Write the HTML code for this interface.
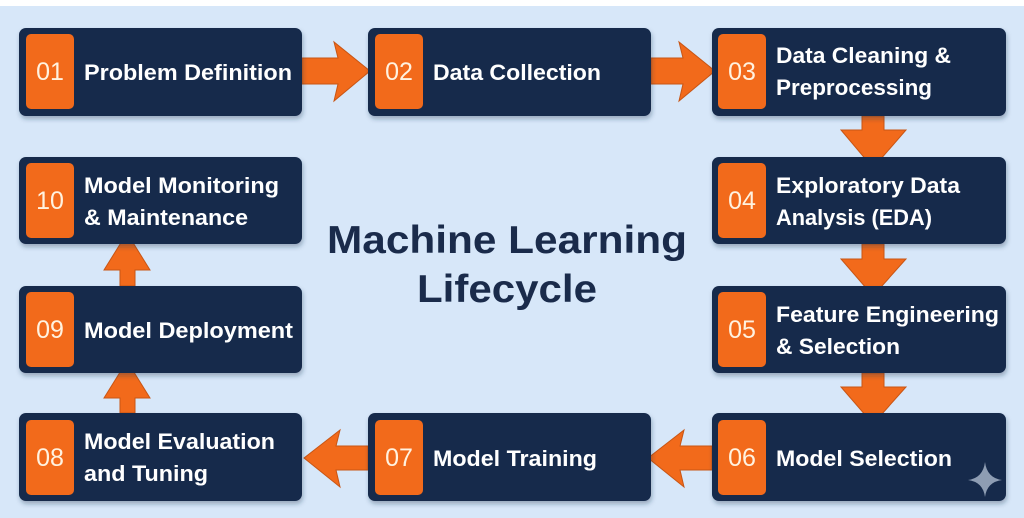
<!DOCTYPE html>
<html><head><meta charset="utf-8"><style>
html,body{margin:0;padding:0;background:#d7e7f9;}
svg{display:block}
text{font-family:"Liberation Sans",sans-serif;font-weight:bold;}
</style></head><body>
<svg width="1024" height="518" viewBox="0 0 1024 518" xmlns="http://www.w3.org/2000/svg">
<defs>
<filter id="sh" x="-10%" y="-10%" width="120%" height="130%"><feDropShadow dx="1" dy="3" stdDeviation="2.5" flood-color="#203050" flood-opacity="0.35"/></filter>
</defs>
<rect width="1024" height="518" fill="#d7e7f9"/>
<rect width="1024" height="6" fill="#ffffff"/>
<g fill="#f26a1b" stroke="#c85514" stroke-width="1">
<polygon points="302,58 338,58 334,42 370,71 334,101 338,84 302,84"/>
<polygon points="651,58 683,58 679,42 715,71 679,101 683,84 651,84"/>
<polygon points="862,116 884,116 884,130 906,130 873,168 841,130 862,130"/>
<polygon points="862,244 884,244 884,259 906,259 873,296 841,259 862,259"/>
<polygon points="862,373 884,373 884,387 906,387 873,424 841,387 862,387"/>
<polygon points="712,446 680,446 684,430 648,458 684,487 680,470 712,470"/>
<polygon points="368,446 336,446 340,430 304,458 340,487 336,470 368,470"/>
<polygon points="120,413 120,398 104,398 127,361 150,398 135,398 135,413"/>
<polygon points="120,286 120,270 104,270 127,233 150,270 135,270 135,286"/>
</g>
<g filter="url(#sh)" fill="#13294b">
<rect x="19" y="28" width="283" height="88" rx="7"/>
<rect x="368" y="28" width="283" height="88" rx="7"/>
<rect x="712" y="28" width="294" height="88" rx="7"/>
<rect x="712" y="157" width="294" height="87" rx="7"/>
<rect x="712" y="286" width="294" height="87" rx="7"/>
<rect x="712" y="413" width="294" height="88" rx="7"/>
<rect x="368" y="413" width="283" height="88" rx="7"/>
<rect x="19" y="413" width="283" height="88" rx="7"/>
<rect x="19" y="286" width="283" height="87" rx="7"/>
<rect x="19" y="157" width="283" height="87" rx="7"/>
</g>
<g fill="#f26a1b">
<rect x="26" y="34" width="48" height="75" rx="5"/>
<rect x="375" y="34" width="48" height="75" rx="5"/>
<rect x="718" y="34" width="48" height="75" rx="5"/>
<rect x="718" y="163" width="48" height="75" rx="5"/>
<rect x="718" y="292" width="48" height="75" rx="5"/>
<rect x="718" y="420" width="48" height="75" rx="5"/>
<rect x="375" y="420" width="48" height="75" rx="5"/>
<rect x="26" y="420" width="48" height="75" rx="5"/>
<rect x="26" y="292" width="48" height="75" rx="5"/>
<rect x="26" y="163" width="48" height="75" rx="5"/>
</g>
<g fill="#fff2e0" font-size="25" text-anchor="middle" font-weight="normal">
<text x="50" y="80" style="font-weight:normal">01</text>
<text x="399" y="80" style="font-weight:normal">02</text>
<text x="742" y="80" style="font-weight:normal">03</text>
<text x="742" y="209" style="font-weight:normal">04</text>
<text x="742" y="338" style="font-weight:normal">05</text>
<text x="742" y="466" style="font-weight:normal">06</text>
<text x="399" y="466" style="font-weight:normal">07</text>
<text x="50" y="466" style="font-weight:normal">08</text>
<text x="50" y="338" style="font-weight:normal">09</text>
<text x="50" y="209" style="font-weight:normal">10</text>
</g>
<g fill="#ffffff" font-size="22">
<text x="84" y="80" textLength="208" lengthAdjust="spacingAndGlyphs">Problem Definition</text>
<text x="433" y="80" textLength="168" lengthAdjust="spacingAndGlyphs">Data Collection</text>
<text x="776" y="63" textLength="175" lengthAdjust="spacingAndGlyphs">Data Cleaning &amp;</text>
<text x="776" y="95" textLength="156" lengthAdjust="spacingAndGlyphs">Preprocessing</text>
<text x="776" y="193" textLength="184" lengthAdjust="spacingAndGlyphs">Exploratory Data</text>
<text x="776" y="225" textLength="156" lengthAdjust="spacingAndGlyphs">Analysis (EDA)</text>
<text x="776" y="322" textLength="223" lengthAdjust="spacingAndGlyphs">Feature Engineering</text>
<text x="776" y="354" textLength="124" lengthAdjust="spacingAndGlyphs">&amp; Selection</text>
<text x="776" y="466" textLength="176" lengthAdjust="spacingAndGlyphs">Model Selection</text>
<text x="433" y="466" textLength="164" lengthAdjust="spacingAndGlyphs">Model Training</text>
<text x="84" y="449" textLength="191" lengthAdjust="spacingAndGlyphs">Model Evaluation</text>
<text x="84" y="481" textLength="124" lengthAdjust="spacingAndGlyphs">and Tuning</text>
<text x="84" y="338" textLength="209" lengthAdjust="spacingAndGlyphs">Model Deployment</text>
<text x="84" y="193" textLength="195" lengthAdjust="spacingAndGlyphs">Model Monitoring</text>
<text x="84" y="225" textLength="164" lengthAdjust="spacingAndGlyphs">&amp; Maintenance</text>
</g>
<path d="M985,462 Q987,478 1002,480 Q987,482 985,497 Q983,482 968,480 Q983,478 985,462 Z" fill="#8e9db3"/>
<g fill="#1a2b4b" font-size="39" text-anchor="middle">
<text x="507" y="253" textLength="360" lengthAdjust="spacingAndGlyphs">Machine Learning</text>
<text x="507" y="302" textLength="180" lengthAdjust="spacingAndGlyphs">Lifecycle</text>
</g>
</svg>
</body></html>
